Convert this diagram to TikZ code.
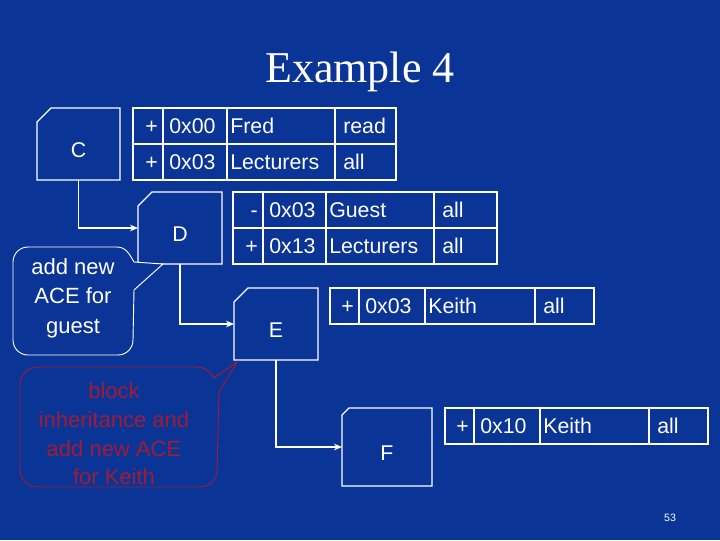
\documentclass[tikz,border=0pt]{standalone}
\usepackage{fontspec}
\setsansfont{Liberation Sans}
\setmainfont{Liberation Serif}
\usetikzlibrary{arrows.meta}
\definecolor{bg}{HTML}{0B3497}
\definecolor{callred}{HTML}{A01C34}
\tikzset{
  ln/.style={draw=white, line width=0.9pt},
  txt/.style={text=white, font=\sffamily\fontsize{16}{18}\selectfont, inner sep=0pt, text height=11.5pt, text depth=3.5pt},
  lbl/.style={text=white, font=\sffamily\fontsize{16}{18}\selectfont, inner sep=0pt},
  conn/.style={draw=white, line width=1.2pt, -{Stealth[length=6pt,width=5pt]}},
}
\newcommand{\cutbox}[7]{%
  \draw[ln] (#1,#2+#5) -- (#1+#5,#2) -- (#3,#2) -- (#3,#4) -- (#1,#4) -- cycle;
  \coordinate (#6-nw) at (#1,#2); \coordinate (#6-se) at (#3,#4);
  \node[lbl] (#6) at ({(#1+#3)/2},{(#2+#4)/2+6}) {#7};}
\newcommand{\acerow}[9]{%
  \draw[ln] (#3,#1) rectangle (#7,#2);
  \draw[ln] (#4,#1) -- (#4,#2) (#5,#1) -- (#5,#2) (#6,#1) -- (#6,#2);
  \node[txt, anchor=east] at (#4-5,{(#1+#2)/2+2}) {#8};
  \node[txt, anchor=west] at (#4+6,{(#1+#2)/2+2}) {#9};}
\newcommand{\acecells}[6]{%
  \node[txt, anchor=west] at (#1+3,{(#3+#4)/2+2}) {#5};
  \node[txt, anchor=west] at (#2+8,{(#3+#4)/2+2}) {#6};}
\begin{document}
\begin{tikzpicture}[x=0.75pt,y=-0.75pt]
\fill[bg] (0,0) rectangle (720,540);
\useasboundingbox (0,0) rectangle (720,540);
\node[text=white, font=\rmfamily\fontsize{33}{36}\selectfont] (title) at (360,72) {Example 4};

\cutbox{37}{108}{120}{180}{14}{C}{C}
\cutbox{138}{192}{222}{264}{14}{D}{D}
\cutbox{234}{288}{318}{360}{14}{E}{E}
\cutbox{342}{408}{432}{486}{7}{F}{F}

\acerow{108}{144}{133}{163}{227}{335}{396}{+}{0x00}
\acecells{227}{335}{108}{144}{Fred}{read}
\acerow{144}{180}{133}{163}{227}{335}{396}{+}{0x03}
\acecells{227}{335}{144}{180}{Lecturers}{all}

\acerow{192}{228}{233}{263}{326}{434}{497}{-}{0x03}
\acecells{326}{434}{192}{228}{Guest}{all}
\acerow{228}{264}{233}{263}{326}{434}{497}{+}{0x13}
\acecells{326}{434}{228}{264}{Lecturers}{all}

\acerow{288}{324}{330}{359}{425}{535}{594}{+}{0x03}
\acecells{425}{535}{288}{324}{Keith}{all}

\acerow{408}{444}{445}{474}{540}{649}{708}{+}{0x10}
\acecells{540}{649}{408}{444}{Keith}{all}

\draw[conn] (C-se -| C) -- (C |- 0,228) -- (D-nw |- 0,228);
\draw[conn] (D-se -| D) -- (D |- 0,324) -- (E-nw |- 0,324);
\draw[conn] (E-se -| E) -- (E |- 0,447) -- (F-nw |- 0,447);

\draw[ln, line width=0.7pt, fill=bg]
  (28,247) -- (117,247) to[out=0,in=120] (134,262) -- (163,264) -- (134,290)
  -- (133,340) to[out=-90,in=0] (118,355) -- (28,355) to[out=180,in=-90] (13,340)
  -- (13,262) to[out=90,in=180] (28,247) -- cycle;
\node[lbl, align=center, font=\sffamily\fontsize{16.5}{22}\selectfont] (c1) at (73,298) {add new\\ACE for\\guest};

\draw[draw=callred, line width=0.7pt]
  (38,367) -- (196,367) to[out=0,in=120] (214,378) -- (237,362) -- (219,392)
  -- (217,470) to[out=-90,in=0] (200,487) -- (38,487) to[out=180,in=-90] (20,470)
  -- (20,384) to[out=90,in=180] (38,367) -- cycle;
\node[text=callred, align=center, font=\sffamily\fontsize{16.5}{21.5}\selectfont, inner sep=0pt] (c2) at (114,434) {block\\inheritance and\\add new ACE\\for Keith};

\node[text=white, font=\sffamily\fontsize{8}{10}\selectfont] (pg) at (670,518) {53};
\end{tikzpicture}
\end{document}
